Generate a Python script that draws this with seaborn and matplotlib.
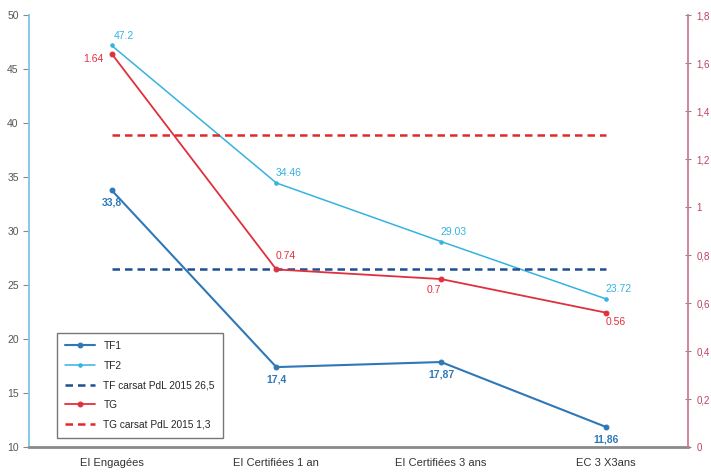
import pandas as pd
import matplotlib.pyplot as plt
import seaborn as sns

# données
categories = ['EI Engagées', 'EI Certifiées 1 an', 'EI Certifiées 3 ans', 'EC 3 X3ans']
tf1 = [33.8, 17.4, 17.87, 11.86]
tf2 = [47.2, 34.46, 29.03, 23.72]
tg = [1.64, 0.74, 0.7, 0.56]
tf_ref = 26.5
tg_ref = 1.3

tf1_lbl = ['33,8', '17,4', '17,87', '11,86']
tf2_lbl = ['47.2', '34.46', '29.03', '23.72']
tg_lbl = ['1.64', '0.74', '0.7', '0.56']

df = pd.DataFrame({'cat': categories, 'TF1': tf1, 'TF2': tf2, 'TG': tg,
                   'TFref': [tf_ref] * 4, 'TGref': [tg_ref] * 4})
df['x'] = range(len(df))

sns.set_style('white')
plt.rcParams['font.family'] = ['Liberation Sans', 'DejaVu Sans']

c_tf1 = '#2f78b8'
c_tf2 = '#35b3e0'
c_tfref = '#1f4f91'
c_tg = '#e0303e'
c_tgref = '#e02a2a'

fig = plt.figure(figsize=(7.11, 4.74), dpi=100)
ax = fig.add_axes([0.041, 0.057, 0.927, 0.911])
ax2 = ax.twinx()

sns.lineplot(data=df, x='x', y='TF1', ax=ax, color=c_tf1, lw=1.5, marker='o', ms=3.5, mec=c_tf1, label='TF1')
sns.lineplot(data=df, x='x', y='TF2', ax=ax, color=c_tf2, lw=1.1, marker='o', ms=2.5, mec=c_tf2, label='TF2')
sns.lineplot(data=df, x='x', y='TFref', ax=ax, color=c_tfref, lw=1.8, ls=(0, (3, 2)), label='TF carsat PdL 2015 26,5')
sns.lineplot(data=df, x='x', y='TG', ax=ax2, color=c_tg, lw=1.3, marker='o', ms=3.5, mec=c_tg, label='TG')
sns.lineplot(data=df, x='x', y='TGref', ax=ax2, color=c_tgref, lw=1.8, ls=(0, (3, 2)), label='TG carsat PdL 2015 1,3')

ax.set_xlim(-0.5, 3.5)
ax.set_ylim(10, 50)
ax2.set_ylim(0, 1.8)
ax.set_xticks(df['x'], categories)
ax.set_yticks(range(10, 51, 5))
ax2.set_yticks([0, 0.2, 0.4, 0.6, 0.8, 1, 1.2, 1.4, 1.6, 1.8],
               ['0', '0,2', '0,4', '0,6', '0,8', '1', '1,2', '1,4', '1,6', '1,8'])
ax.set_xlabel('')
ax.set_ylabel('')
ax2.set_ylabel('')

ax.tick_params(axis='x', labelsize=8, colors='#333333', length=0, pad=8)
ax.tick_params(axis='y', labelsize=7.5, labelcolor='#555555', color='#888888', length=4, direction='out', left=True)
ax2.tick_params(axis='y', labelsize=7, labelcolor='#c0405a', color='#888888', length=5, direction='inout', right=True)

for s in ['top']:
    ax.spines[s].set_visible(False)
    ax2.spines[s].set_visible(False)
ax.spines['left'].set_color('#7cc6e6')
ax.spines['left'].set_linewidth(1.3)
ax2.spines['right'].set_color('#d27a8e')
ax2.spines['right'].set_linewidth(1.3)
ax2.spines['left'].set_visible(False)
ax.spines['right'].set_visible(False)
ax.spines['bottom'].set_color('#8a8a8a')
ax.spines['bottom'].set_linewidth(2)
ax2.spines['bottom'].set_visible(False)

# étiquettes
for i in range(4):
    ax.annotate(tf1_lbl[i], (i, tf1[i]), xytext=(0, -9), textcoords='offset points',
                ha='center', va='center', fontsize=7.5, color=c_tf1, fontweight='bold')
    ax.annotate(tf2_lbl[i], (i, tf2[i]), xytext=(9, 7), textcoords='offset points',
                ha='center', va='center', fontsize=7.5, color=c_tf2)
tg_off = [(-13, -4), (7, 10), (-5, -8), (7, -7)]
for i in range(4):
    ax2.annotate(tg_lbl[i], (i, tg[i]), xytext=tg_off[i], textcoords='offset points',
                 ha='center', va='center', fontsize=7.5, color=c_tg)

h1, l1 = ax.get_legend_handles_labels()
h2, l2 = ax2.get_legend_handles_labels()
ax2.get_legend().remove()
leg = ax.legend(h1 + h2, l1 + l2, loc='lower left', bbox_to_anchor=(0.034, 0.01),
                fontsize=7.3, frameon=True, fancybox=False, edgecolor='#555555',
                labelspacing=0.95, handlelength=3, borderpad=0.8)
leg.get_frame().set_linewidth(1)

fig.savefig('out.png', dpi=100)
